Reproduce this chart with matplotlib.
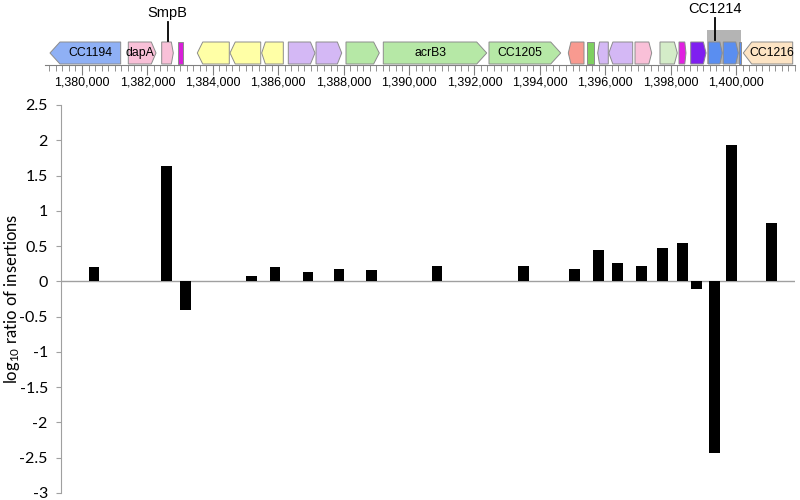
import matplotlib
matplotlib.use("Agg")
import matplotlib.pyplot as plt
from matplotlib.patches import Polygon, Rectangle
from matplotlib.ticker import MultipleLocator, FuncFormatter

plt.rcParams['font.family'] = ['Liberation Sans', 'DejaVu Sans']
plt.rcParams['mathtext.default'] = 'regular'

# genes on the map (bp), strand: 1 forward, -1 reverse, 0 no arrow
gene_start = [1379021, 1381416, 1382437, 1382927, 1383526, 1384526, 1385495, 1386309,
              1387156, 1388073, 1389214, 1392446, 1394871, 1395434, 1395770, 1396110,
              1396911, 1397675, 1398256, 1398614, 1399153, 1399611, 1400076, 1400223]
gene_end = [1381183, 1382263, 1382792, 1383079, 1384504, 1385465, 1386156, 1387125,
            1387942, 1389091, 1392376, 1394639, 1395351, 1395666, 1396094, 1396840,
            1397421, 1398204, 1398470, 1399082, 1399580, 1400070, 1400137, 1401733]
gene_strand = [-1, 1, 1, 0, -1, -1, -1, 1, 1, 1, 1, 1, -1, 0, -1, -1, 1, 1, 1, 1, 1, 1, 0, -1]
gene_color = ['#8fb0f5', '#f9c0d8', '#f9c0d8', '#d81ed8', '#ffffa6', '#ffffa6', '#ffffa6',
              '#d4b8f5', '#d4b8f5', '#b6e8a6', '#b6e8a6', '#b6e8a6', '#f89a90', '#7ed060',
              '#d4b8f5', '#d4b8f5', '#f9c0d8', '#d4ecc8', '#e020e0', '#7f1ff0', '#5a8ef0',
              '#5a8ef0', '#5a8ef0', '#fde4c4']
gene_label = ['CC1194', 'dapA', '', '', '', '', '', '', '', '', 'acrB3', 'CC1205',
              '', '', '', '', '', '', '', '', '', '', '', 'CC1216']

# highlighted region and callouts
highlight = (1399122, 1400143)
callout_pos = [1382615, 1399350]
callout_text = ['SmpB', 'CC1214']

# insertion ratios
bar_pos = [1380367, 1382599, 1383165, 1385183, 1385902, 1386911, 1387859, 1388838,
           1390856, 1393502, 1395061, 1395780, 1396361, 1397095, 1397758, 1398364,
           1398777, 1399343, 1399847, 1401070]
bar_val = [0.21, 1.63, -0.40, 0.08, 0.21, 0.13, 0.18, 0.16, 0.22, 0.22, 0.18, 0.45,
           0.26, 0.22, 0.48, 0.55, -0.11, -2.44, 1.93, 0.83]
bar_width = 336

W, H = 800, 500
BP_PER_PX = 30.58
X0_PX, X0_BP = 82, 1380000


def px2bp(px):
    return X0_BP + (px - X0_PX) * BP_PER_PX


fig = plt.figure(figsize=(8, 5), dpi=100)

# ---- gene map ----
gx0, gx1, gy = 45, 795, 64.5
gax = fig.add_axes([gx0 / W, 1 - gy / H, (gx1 - gx0) / W, gy / H])
gax.set_xlim(px2bp(gx0), px2bp(gx1))
gax.set_ylim(gy, 0)
for s in ['top', 'left', 'right']:
    gax.spines[s].set_visible(False)
gax.spines['bottom'].set_color('#808080')
gax.set_yticks([])
gax.xaxis.set_major_locator(MultipleLocator(2000))
gax.xaxis.set_minor_locator(MultipleLocator(200))
gax.xaxis.set_major_formatter(FuncFormatter(lambda v, p: f'{int(v):,}'))
gax.tick_params(axis='x', which='major', length=7, color='#808080', labelsize=9, pad=1.5)
gax.tick_params(axis='x', which='minor', length=4.5, color='#808080')

box_top, box_bot = 42, 64
head = 10 * BP_PER_PX
gax.add_patch(Rectangle((highlight[0], 30), highlight[1] - highlight[0], box_bot - 30,
                        facecolor='#b4b4b4', edgecolor='none', zorder=1))
for st, en, sd, col, lab in zip(gene_start, gene_end, gene_strand, gene_color, gene_label):
    h = min(head, 0.17 * (en - st))
    mid = (box_top + box_bot) / 2
    if sd == 1:
        pts = [(st, box_top), (en - h, box_top), (en, mid), (en - h, box_bot), (st, box_bot)]
    elif sd == -1:
        pts = [(st, mid), (st + h, box_top), (en, box_top), (en, box_bot), (st + h, box_bot)]
    else:
        pts = [(st, box_top), (en, box_top), (en, box_bot), (st, box_bot)]
    gax.add_patch(Polygon(pts, closed=True, facecolor=col, edgecolor='#8c8c8c',
                          linewidth=0.7, zorder=2))
    if lab:
        cx = (st + en) / 2 + (h / 2 if sd == -1 else -h / 2 if sd == 1 else 0)
        gax.text(cx, mid, lab, ha='center', va='center', fontsize=8.8, zorder=3)

for pos, txt, ytop, ybot in zip(callout_pos, callout_text, [22, 18], [41, 40]):
    gax.plot([pos, pos], [ytop, ybot], color='black', lw=1.3, zorder=4, clip_on=False)
    gax.text(pos, ytop - 2, txt, ha='center', va='bottom', fontsize=10.5, clip_on=False)

# ---- bar chart ----
bx0, bx1, by0, by1 = 61, 795, 105, 493
ax = fig.add_axes([bx0 / W, 1 - by1 / H, (bx1 - bx0) / W, (by1 - by0) / H])
ax.set_xlim(px2bp(bx0), px2bp(bx1))
ax.set_ylim(-3, 2.5)
ax.bar(bar_pos, bar_val, width=bar_width, color='black', zorder=3)
ax.axhline(0, color='#a0a0a0', lw=1, zorder=2)
for s in ['top', 'right', 'bottom']:
    ax.spines[s].set_visible(False)
ax.spines['left'].set_color('#a0a0a0')
ax.set_xticks([])
ax.set_yticks([-3, -2.5, -2, -1.5, -1, -0.5, 0, 0.5, 1, 1.5, 2, 2.5])
ax.set_yticklabels(['-3', '-2.5', '-2', '-1.5', '-1', '-0.5', '0', '0.5', '1', '1.5', '2', '2.5'],
                   family=['Lato', 'DejaVu Sans'])
ax.tick_params(axis='y', length=3.5, color='#a0a0a0', labelsize=11.5, pad=6)
ax.set_ylabel('log$_{10}$ ratio of insertions', family=['Lato', 'DejaVu Sans'],
              fontsize=12)
ax.yaxis.set_label_coords(-(bx0 - 22) / (bx1 - bx0), 0.5)

fig.savefig('out.png', dpi=100)
